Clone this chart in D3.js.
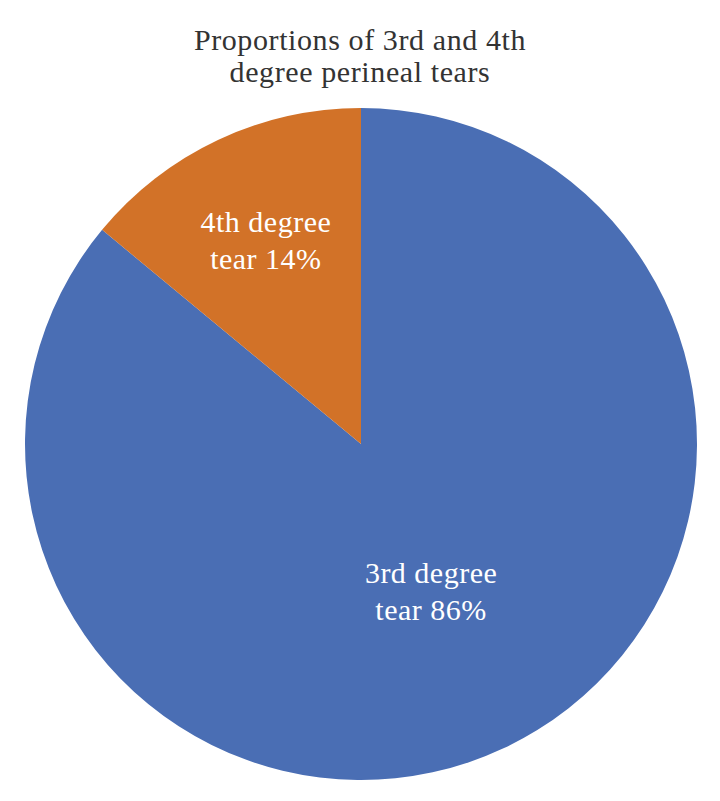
<!DOCTYPE html>
<meta charset="utf-8">
<script src="https://d3js.org/d3.v7.min.js"></script>
<style>
  body { margin: 0; background: #fff; }
  text { font-family: "Liberation Serif", "DejaVu Serif", serif; }
</style>
<svg id="chart" width="720" height="801"></svg>
<script>

// data
var categories = ["3rd degree tear", "4th degree tear"];
var shares = [86, 14];
var labelLines = [["3rd degree", "tear 86%"], ["4th degree", "tear 14%"]];
var titleLines = ["Proportions of 3rd and 4th", "degree perineal tears"];

var width = 720, height = 801;
var cx = 361, cy = 444, radius = 336;

var svg = d3.select("#chart");

// title
svg.append("text")
  .attr("x", width / 2)
  .attr("y", 50)
  .attr("text-anchor", "middle")
  .style("font-size", "30px")
  .style("letter-spacing", "0.6px")
  .style("fill", "#333")
  .selectAll("tspan")
  .data(titleLines)
  .enter().append("tspan")
    .attr("x", width / 2)
    .attr("dy", function(d, i) { return i === 0 ? 0 : 32; })
    .text(function(d) { return d; });

var color = d3.scaleOrdinal()
  .domain(categories)
  .range(["#4a6eb4", "#d27228"]);

var pie = d3.pie().sort(null).value(function(d) { return d; });
var arcs = pie(shares);

var arc = d3.arc().innerRadius(0).outerRadius(radius);

var g = svg.append("g")
  .attr("transform", "translate(" + cx + "," + cy + ")");

g.selectAll("path")
  .data(arcs)
  .enter().append("path")
    .attr("d", arc)
    .attr("fill", function(d, i) { return color(categories[i]); });

// slice labels, placed along the slice mid-angle
var labelRadius = [0.49, 0.665];
g.selectAll("text.lbl")
  .data(arcs)
  .enter().append("text")
    .attr("class", "lbl")
    .attr("text-anchor", "middle")
    .style("font-size", "30px")
    .style("letter-spacing", "0.5px")
    .style("fill", "#fff")
    .each(function(d, i) {
      var r = radius * labelRadius[i];
      var a = (d.startAngle + d.endAngle) / 2;
      var x = Math.sin(a) * r, y = -Math.cos(a) * r;
      d3.select(this).selectAll("tspan")
        .data(labelLines[i])
        .enter().append("tspan")
          .attr("x", x)
          .attr("y", function(t, k) { return y + (k - 0.5) * 37 + 9; })
          .text(function(t) { return t; });
    });

</script>
